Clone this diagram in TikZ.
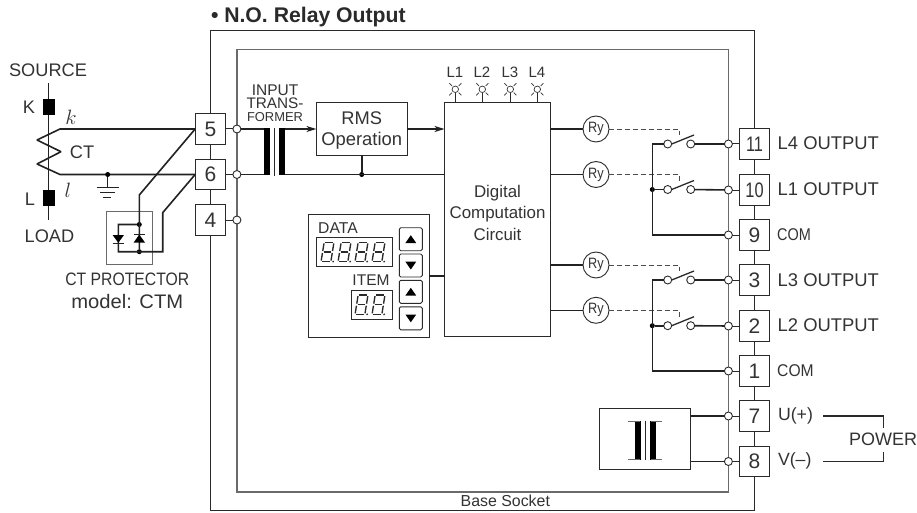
\documentclass[tikz,border=0pt]{standalone}
\usepackage{graphicx}
\usepackage{fontspec}
\setmainfont{Liberation Sans}
\usetikzlibrary{arrows.meta,calc}
\newcommand\fsz[1]{\fontsize{#1}{#1}\selectfont}
\newcommand\cond[2]{\scalebox{#1}[1]{#2}}
\definecolor{ink}{HTML}{2A2A2A}
\definecolor{wireink}{HTML}{222222}
\definecolor{midgrey}{HTML}{6A6A6A}
\definecolor{textink}{HTML}{333333}
\tikzset{
  lbl/.style={inner sep=0pt,outer sep=0pt,text=textink,align=center},
  term/.style={draw=ink,line width=1pt,fill=white,minimum width=30.5pt,minimum height=30.5pt,inner sep=0pt,outer sep=0pt,text=textink,font=\fsz{21}},
  pin/.style={circle,draw=ink,line width=.9pt,fill=white,minimum size=8pt,inner sep=0pt,outer sep=0pt},
  ledc/.style={circle,draw=textink,line width=.7pt,fill=white,minimum size=6.5pt,inner sep=0pt,outer sep=0pt},
  dot/.style={circle,fill=black,minimum size=5pt,inner sep=0pt,outer sep=0pt},
  blockbox/.style={draw=ink,line width=1pt,fill=white,inner sep=0pt,outer sep=0pt,text=textink,align=center},
  relay/.style={circle,draw=ink,line width=.9pt,fill=white,minimum size=26pt,inner sep=0pt,outer sep=0pt,text=textink,font=\fsz{15}},
  wire/.style={draw=wireink,line width=1.6pt,line join=miter},
  thinwire/.style={draw=ink,line width=1pt},
  dashwire/.style={draw=ink!85,line width=.9pt,dash pattern=on 4.5pt off 3.5pt},
  btn/.style={draw=ink,line width=.9pt,rounded corners=1.5pt,fill=white,minimum width=23pt,minimum height=23pt,inner sep=0pt,outer sep=0pt},
  arr/.style={-{Stealth[length=10pt,width=6pt,inset=3pt]}},
  x=1pt,y=-1pt
}
\newcommand\segd[2]{%
\begin{scope}[shift={(#1,#2)},xslant=.16,line width=1.35pt,draw=ink]
\draw (-3.9,-9.6) -- (3.9,-9.6);
\draw (-3.9,0) -- (3.9,0);
\draw (-3.9,9.6) -- (3.9,9.6);
\draw (-4.9,-8.6) -- (-4.9,-1);
\draw (4.9,-8.6) -- (4.9,-1);
\draw (-4.9,1) -- (-4.9,8.6);
\draw (4.9,1) -- (4.9,8.6);
\fill[ink] (7.2,9.6) circle (1pt);
\end{scope}}
\newcommand\led[3]{%
\node[ledc] (#1) at (#2,89.3) {};
\node[lbl,font=\fsz{15}] at (#2-.4,72.7) {#3};
\foreach \a in {45,135,225,315}
  \draw[draw=textink,line width=.7pt] ($(#1)+(\a:4.8)$) -- ($(#1)+(\a:8.5)$);
\draw[thinwire,line width=1.1pt] (#1) -- (#2,102.7);}
\newcommand\switch[3]{% name, y contact, y coil
\node[pin] (#1a) at (667.7,#2) {};
\node[pin] (#1b) at (690.7,#2) {};
\draw[thinwire,line width=1.3pt] (#1a.east) -- (694,#2-9);
\draw[dashwire] (#1) -- (679.3,#3) -- (679.3,#2-8.5);}
\begin{document}
\begin{tikzpicture}
\useasboundingbox (0,0) rectangle (917,513);
\fill[white] (0,0) rectangle (917,513);
% housing
\draw[draw=ink,line width=1.1pt] (210.5,30.3) rectangle (754.7,510.7);
\draw[draw=midgrey,line width=1.4pt] (236.9,49.7) rectangle (728.4,492);
\node[lbl,font=\fsz{15.9}] (socket) at (505.3,501.3) {Base Socket};
\node[lbl,font=\bfseries\fsz{21.2},anchor=base west,text=ink] (title) at (211,22.7) {• N.O. Relay Output};
% left side terminals
\node[term] (t5) at (210.4,129) {5};
\node[term] (t6) at (210.4,174.5) {6};
\node[term] (t4) at (210.4,220) {4};
\node[pin] (p5) at (236.9,129) {};
\node[pin] (p6) at (236.9,174.5) {};
\node[pin] (p4) at (236.9,220) {};
\draw[thinwire] (t5) -- (p5);
\draw[thinwire] (t6) -- (p6);
\draw[thinwire] (t4) -- (p4);
% right terminals
\foreach \n/\ty/\tx in {11/144/11,10/190/10,9/235/9,3/280/3,2/326/2,1/371/1,7/416/7,8/461.5/8}{
  \node[term] (t\n) at (754.5,\ty) {\ifnum\n>9 \cond{.78}{\tx}\else\tx\fi};
  \node[pin] (q\n) at (728.4,\ty) {};
  \draw[thinwire] (q\n) -- (t\n);
}
% right labels
\node[lbl,font=\fsz{18.4},anchor=west] (o11) at (777.7,143.5) {L4 OUTPUT};
\node[lbl,font=\fsz{18.4},anchor=west] (o10) at (777.7,189) {L1 OUTPUT};
\node[lbl,font=\fsz{17},anchor=west] (o9) at (777.2,235) {\cond{.85}{COM}};
\node[lbl,font=\fsz{18.4},anchor=west] (o3) at (777.7,280) {L3 OUTPUT};
\node[lbl,font=\fsz{18.4},anchor=west] (o2) at (777.7,325) {L2 OUTPUT};
\node[lbl,font=\fsz{17},anchor=west] (o1) at (777.2,371) {\cond{.92}{COM}};
\node[lbl,font=\fsz{17.7},anchor=west] (o7) at (778,416) {U(+)};
\node[lbl,font=\fsz{17.7},anchor=west] (o8) at (778,461) {V(–)};
\node[lbl,font=\fsz{18}] (power) at (883,439) {POWER};
\coordinate (pu) at (823.3,416);
\coordinate (pub) at (883.7,416);
\coordinate (pue) at (883.7,427.5);
\coordinate (pl) at (823.3,461.5);
\coordinate (plb) at (883.7,461.5);
\coordinate (ple) at (883.7,451.5);
\draw[thinwire,line width=1.2pt] (pu) -- (pub) -- (pue);
\draw[thinwire,line width=1.2pt] (pl) -- (plb) -- (ple);
% source side
\coordinate (srctop) at (48.3,83.5);
\coordinate (srcbot) at (48.3,220);
\draw[wire,line width=1.4pt] (srctop) -- (srcbot);
\node[fill=black,minimum width=11.7pt,minimum height=15.4pt,inner sep=0pt] (K) at (49.2,107) {};
\node[fill=black,minimum width=11.7pt,minimum height=15.7pt,inner sep=0pt] (Lb) at (49.2,198) {};
\node[lbl,font=\fsz{18.2}] (src) at (48,70) {SOURCE};
\node[lbl,font=\fsz{18.2}] (Kl) at (29,107.5) {K};
\node[lbl,font=\fsz{18.2}] (Ll) at (30,199) {L};
\node[lbl,font=\fsz{18.2}] (load) at (49.5,236) {LOAD};
\node[lbl,font=\fsz{18.2}] (ct) at (82,152) {CT};
\node[lbl,font=\fsz{20}] (kk) at (71,117) {$k$};
\node[lbl,font=\fsz{20}] (ll) at (68,190) {$l$};
\coordinate (kb) at (60,129);
\coordinate (z1) at (37,140);
\coordinate (z2) at (61,151.7);
\coordinate (z3) at (37,164);
\coordinate (lb) at (60,174.5);
\draw[wire,line join=bevel] (t5.west) -- (kb) -- (z1) -- (z2) -- (z3) -- (lb) -- (t6.west);
% ground
\node[dot] (gd) at (107.7,174.5) {};
\coordinate (g0) at (107.7,187.3);
\draw[wire,line width=1.3pt] (gd) -- (g0);
\draw[wire,line width=1.3pt] (96.7,187.3) -- (118.5,187.3);
\draw[wire,line width=1.3pt] (100,192.3) -- (115,192.3);
\draw[wire,line width=1.3pt] (102.7,197.3) -- (111,197.3);
% CT protector
\node[draw=midgrey,line width=1.2pt,minimum width=45.6pt,minimum height=52.6pt,inner sep=0pt,outer sep=0pt] (ctp) at (129.5,238) {};
\node[lbl,font=\fsz{18}] (ctpl) at (127.3,279) {\cond{.875}{CT PROTECTOR}};
\node[lbl,font=\fsz{19.6}] (ctpm) at (127.3,301.5) {\cond{1.03}{model: CTM}};
\node[dot] (da) at (139.3,224.5) {};
\node[dot] (db) at (139.3,251.7) {};
\coordinate (c5) at (139.3,195);
\coordinate (c6) at (162.7,212.7);
\coordinate (c6b) at (162.7,251.7);
\coordinate (dl) at (118.3,251.7);
\coordinate (dlt) at (118.3,224.5);
\draw[wire] (t5.west) -- (c5) -- (db);
\draw[wire] (t6.west) -- (c6) -- (c6b) -- (dl) -- (dlt) -- (da);
\fill[black] (112.6,235) -- (124,235) -- (118.3,242.8) -- cycle;
\draw[wire,line width=1pt] (112.6,243.2) -- (124,243.2);
\fill[black] (133.6,242.6) -- (145,242.6) -- (139.3,234.6) -- cycle;
\draw[wire,line width=1pt] (133.6,234.2) -- (145,234.2);
% input transformer
\node[lbl,font=\fsz{15.5}] (tri) at (275,90) {INPUT};
\node[lbl,font=\fsz{15.3}] (trt) at (275,103.5) {TRANS-};
\node[lbl,font=\fsz{12.9}] (trf) at (275,117) {FORMER};
\node[blockbox,minimum width=90.7pt,minimum height=52.6pt] (rms) at (361.7,129) {};
\node[lbl,font=\fsz{18.3}] (rms1) at (361.7,118) {RMS};
\node[lbl,font=\fsz{18.4}] (rms2) at (361.7,141) {Operation};
\node[blockbox,minimum width=106pt,minimum height=234pt] (dig) at (497.5,219.7) {};
\node[lbl,font=\fsz{16.9}] (dg1) at (497.5,193) {Digital};
\node[lbl,font=\fsz{16.9}] (dg2) at (497.5,214) {Computation};
\node[lbl,font=\fsz{16.9}] (dg3) at (497.5,234.5) {Circuit};
\fill[black] (264.3,128.2) rectangle (270.2,175.3);
\fill[black] (279.4,128.2) rectangle (285,175.3);
\draw[draw=ink,line width=.9pt] (274.8,128) -- (274.8,175.5);
\coordinate (trl1) at (264.3,129);
\coordinate (trl2) at (264.3,174.5);
\coordinate (trr1) at (285,129);
\coordinate (trr2) at (285,174.5);
\draw[wire] (p5) -- (trl1);
\draw[wire] (p6) -- (trl2);
\draw[wire,line width=1.3pt,arr] (trr1) -- (rms.west);
\draw[wire,arr] (rms.east) -- (dig.west |- rms.east);
\node[dot] (rd) at (361.7,174.5) {};
\draw[wire] (trr2) -- (dig.west |- trr2);
\draw[wire] (rms.south) -- (rd);
% LEDs
\led{l1}{455.3}{L1}
\led{l2}{482.3}{L2}
\led{l3}{510.3}{L3}
\led{l4}{537.3}{L4}
% panel
\node[blockbox,minimum width=121.3pt,minimum height=123.4pt] (panel) at (368.7,276) {};
\draw[wire] (panel.east) -- (dig.west |- panel.east);
\node[lbl,font=\fsz{15.7}] (dtl) at (338,228) {DATA};
\node[lbl,font=\fsz{15.5}] (itl) at (371,280) {ITEM};
\node[blockbox,minimum width=76.3pt,minimum height=29.4pt] (dbox) at (354.2,252) {};
\node[blockbox,minimum width=41pt,minimum height=29.4pt] (ibox) at (371.5,304.7) {};
\segd{327.5}{252}\segd{344.5}{252}\segd{361.5}{252}\segd{378.5}{252}
\segd{361.5}{304.7}\segd{378.5}{304.7}
\node[btn] (b1) at (410.8,239.2) {};
\node[btn] (b2) at (410.8,265.5) {};
\node[btn] (b3) at (410.8,291.8) {};
\node[btn] (b4) at (410.8,318.3) {};
\fill[black] ($(b1)+(-5.4,3.8)$) -- ($(b1)+(5.4,3.8)$) -- ($(b1)+(0,-4)$) -- cycle;
\fill[black] ($(b2)+(-5.4,-3.8)$) -- ($(b2)+(5.4,-3.8)$) -- ($(b2)+(0,4)$) -- cycle;
\fill[black] ($(b3)+(-5.4,3.8)$) -- ($(b3)+(5.4,3.8)$) -- ($(b3)+(0,-4)$) -- cycle;
\fill[black] ($(b4)+(-5.4,-3.8)$) -- ($(b4)+(5.4,-3.8)$) -- ($(b4)+(0,4)$) -- cycle;
% relays
\node[relay] (r1) at (596,129) {\cond{.85}{Ry}};
\node[relay] (r2) at (596,174.5) {\cond{.85}{Ry}};
\node[relay] (r3) at (596,265) {\cond{.85}{Ry}};
\node[relay] (r4) at (596,310.3) {\cond{.85}{Ry}};
\draw[wire] (dig.east |- r1) -- (r1);
\draw[wire] (dig.east |- r2) -- (r2);
\draw[wire] (dig.east |- r3) -- (r3);
\draw[wire] (dig.east |- r4) -- (r4);
\switch{r1}{144}{129}
\switch{r2}{189.5}{174.5}
\switch{r3}{280}{265}
\switch{r4}{325.7}{310.3}
% bus group 1
\coordinate (bus1t) at (652.3,144);
\coordinate (bus1b) at (652.3,235);
\node[dot] (j1) at (652.3,189.5) {};
\draw[wire] (r1a) -- (bus1t) -- (bus1b) -- (q9);
\draw[wire] (r2a) -- (j1);
\draw[wire] (r1b) -- (q11);
\draw[wire] (r2b) -- (q10);
% bus group 2
\coordinate (bus2t) at (652.3,280);
\coordinate (bus2b) at (652.3,371);
\node[dot] (j2) at (652.3,325.7) {};
\draw[wire] (r3a) -- (bus2t) -- (bus2b) -- (q1);
\draw[wire] (r4a) -- (j2);
\draw[wire] (r3b) -- (q3);
\draw[wire] (r4b) -- (q2);
% power transformer
\node[blockbox,minimum width=91.4pt,minimum height=61pt] (pwr) at (645,438.8) {};
\draw[wire,line width=1.3pt] (pwr.east |- q7) -- (q7);
\draw[wire,line width=1.3pt] (pwr.east |- q8) -- (q8);
\fill[black] (635,420.7) rectangle (640.7,460);
\fill[black] (650,420.7) rectangle (655.7,460);
\draw[draw=ink,line width=.9pt] (645,420.7) -- (645,460);
\draw[draw=midgrey,line width=1pt] (628.3,421) -- (640,421);
\draw[draw=midgrey,line width=1pt] (628.3,459.7) -- (640,459.7);
\draw[draw=midgrey,line width=1pt] (651,421) -- (661.7,421);
\draw[draw=midgrey,line width=1pt] (651,459.7) -- (661.7,459.7);
\end{tikzpicture}
\end{document}
